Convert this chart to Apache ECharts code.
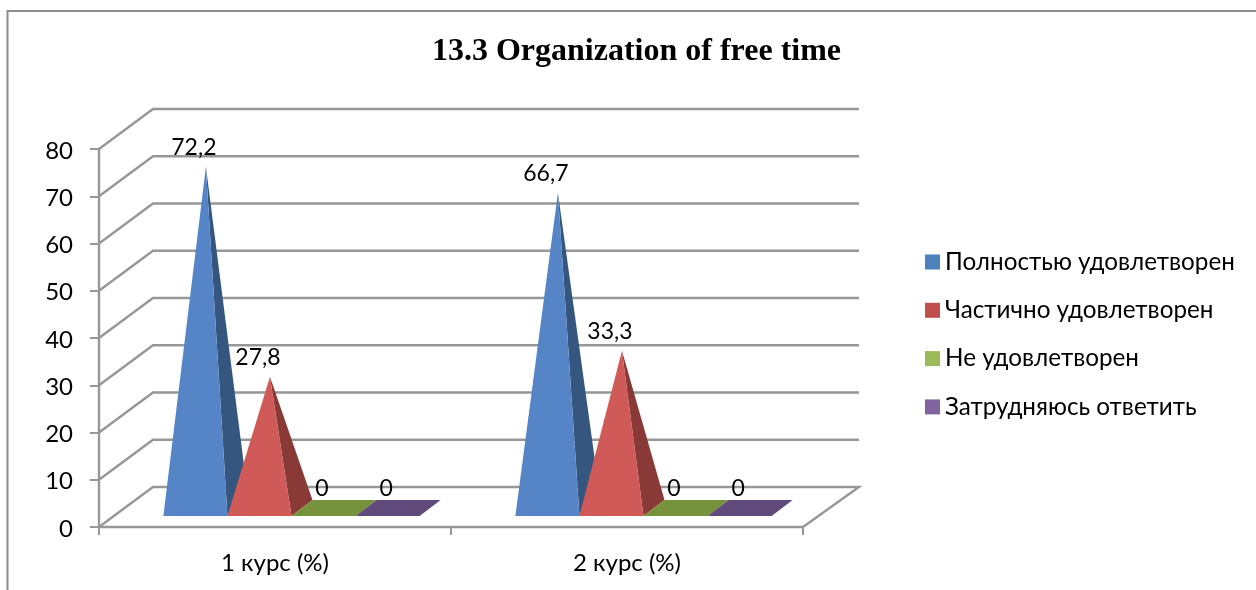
<!DOCTYPE html>
<html>
<head>
<meta charset="utf-8">
<style>html,body{margin:0;padding:0;background:#fff}#c{width:1256px;height:590px}</style>
<script src="https://cdn.jsdelivr.net/npm/echarts@6/dist/echarts.min.js"></script>
</head>
<body>
<div id="c"></div>
<script>
const titleText = '13.3 Organization of free time';
const categories = ['1 курс (%)', '2 курс (%)'];
const yTicks = [0, 10, 20, 30, 40, 50, 60, 70, 80];
const seriesNames = ['Полностью удовлетворен', 'Частично удовлетворен', 'Не удовлетворен', 'Затрудняюсь ответить'];
const fullySatisfied = [72.2, 66.7];
const partlySatisfied = [27.8, 33.3];
const notSatisfied = [0, 0];
const hardToSay = [0, 0];
const seriesValues = [fullySatisfied, partlySatisfied, notSatisfied, hardToSay];
const legendColors = ['#4f81bd', '#c0504d', '#9bbb59', '#8064a2'];
const frontColors = ['#5585c6', '#d05a58', '#76923c', '#604a7b'];
const sideColors = ['#35577f', '#8a3a36', '#76923c', '#604a7b'];

const FONT = 'Lato, "Noto Sans", sans-serif';
const LINE = '#979797';
const WALL = {dx: 54, dy: -40};
const BASE = {dx: 21, dy: -16, shiftX: 16.5, liftY: 11};
const BAR_SHARE = 0.182;

function renderWall(params, api) {
  const cs = params.coordSys;
  const t = api.value(1);
  const y = api.coord([0, t])[1];
  const x0 = cs.x, x1 = cs.x + cs.width;
  const pts = [[x0, y], [x0 + WALL.dx, y + WALL.dy], [x1 + WALL.dx + 2, y + WALL.dy]];
  if (t === 0) pts.push([x1, y]);
  return {type: 'polyline', shape: {points: pts}, style: {stroke: LINE, lineWidth: 2.4, fill: 'none'}, silent: true};
}

function pyramidRenderer(k) {
  return function (params, api) {
    const cat = api.value(0), v = api.value(1);
    const band = api.size([1, 0])[0];
    const w = band * BAR_SHARE;
    const p0 = api.coord([cat, 0]);
    const fy = p0[1] - BASE.liftY;
    const xl = p0[0] + BASE.shiftX - 2 * w + k * w;
    const xr = xl + w;
    const by = fy + BASE.dy;
    const ax = (xl + xr) / 2 + BASE.dx / 2;
    const ay = api.coord([cat, v])[1] - BASE.liftY + BASE.dy / 2;
    const children = [];
    if (v > 0) {
      children.push({type: 'polygon', shape: {points: [[xr, fy], [xr + BASE.dx, by], [ax, ay]]}, style: {fill: sideColors[k]}});
      children.push({type: 'polygon', shape: {points: [[xl, fy], [xr, fy], [ax, ay]]}, style: {fill: frontColors[k]}});
    } else {
      children.push({type: 'polygon', shape: {points: [[xl, fy], [xr, fy], [xr + BASE.dx, by], [xl + BASE.dx, by]]}, style: {fill: frontColors[k]}});
    }
    children.push({type: 'text', z2: 10, style: {x: ax - 12, y: ay - 19, text: String(v).replace('.', ','), align: 'center', verticalAlign: 'middle', fontFamily: FONT, fontSize: 23, fill: '#000'}});
    return {type: 'group', children};
  };
}

const series = [{
  type: 'custom', name: 'walls', silent: true, clip: false, z: 1,
  data: yTicks.map(t => [0, t]), renderItem: renderWall
}];
seriesNames.forEach((name, k) => {
  series.push({
    type: 'custom', name, clip: false, z: 2 + k,
    itemStyle: {color: legendColors[k]},
    data: seriesValues[k].map((v, i) => [i, v]),
    renderItem: pyramidRenderer(k)
  });
});

const chart = echarts.init(document.getElementById('c'), null, {renderer: 'canvas'});
chart.setOption({
  animation: false,
  backgroundColor: '#fff',
  title: {
    text: titleText, left: 631.5, top: 31, textAlign: 'center',
    textStyle: {fontFamily: '"Liberation Serif", serif', fontWeight: 'bold', fontSize: 32, color: '#000'}
  },
  grid: {left: 99, top: 149, width: 704, height: 378},
  xAxis: {
    type: 'category', data: categories, boundaryGap: true,
    axisLine: {lineStyle: {color: LINE, width: 2.4}},
    axisTick: {show: true, length: 8, lineStyle: {color: LINE, width: 2}},
    axisLabel: {fontFamily: FONT, fontSize: 24, color: '#000', margin: 24},
    splitLine: {show: false}
  },
  yAxis: {
    type: 'value', min: 0, max: 80, interval: 10,
    axisLine: {show: true, lineStyle: {color: LINE, width: 2.4}},
    axisTick: {show: true, length: 9, lineStyle: {color: LINE, width: 2}},
    axisLabel: {fontFamily: FONT, fontSize: 24, color: '#000', margin: 26, verticalAlign: 'top', lineHeight: 4},
    splitLine: {show: false}
  },
  legend: {
    data: seriesNames, orient: 'vertical', left: 920, top: 245, itemWidth: 15, itemHeight: 15, itemGap: 24.3,
    icon: 'rect', selectedMode: false,
    textStyle: {fontFamily: FONT, fontSize: 24.25, color: '#000'}
  },
  graphic: [{
    type: 'polyline', silent: true,
    shape: {points: [[7.5, 590], [7.5, 11], [1256, 11]]},
    style: {stroke: '#8c8c8c', lineWidth: 2, fill: 'none'}
  }],
  series
});
</script>
</body>
</html>
